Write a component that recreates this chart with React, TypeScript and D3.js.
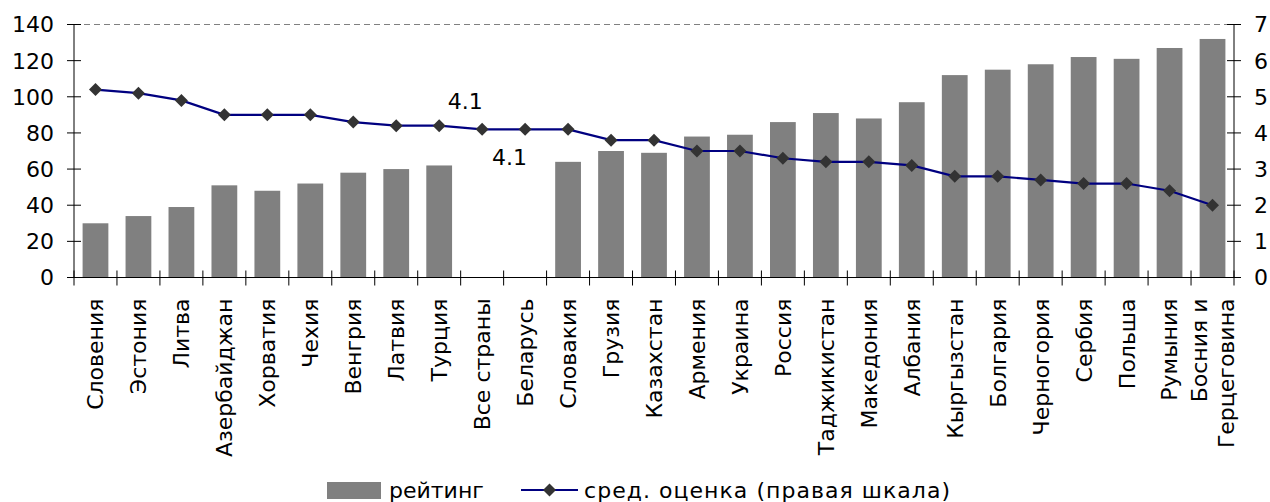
import React from "react";
import * as d3 from "d3";

const categories: string[] = [
  "Словения", "Эстония", "Литва", "Азербайджан", "Хорватия", "Чехия", "Венгрия",
  "Латвия", "Турция", "Все страны", "Беларусь", "Словакия", "Грузия", "Казахстан",
  "Армения", "Украина", "Россия", "Таджикистан", "Македония", "Албания",
  "Кыргызстан", "Болгария", "Черногория", "Сербия", "Польша", "Румыния",
  "Босния и Герцеговина",
];

const rating: (number | null)[] = [
  30, 34, 39, 51, 48, 52, 58, 60, 62, null, null, 64, 70, 69, 78, 79, 86, 91, 88,
  97, 112, 115, 118, 122, 121, 127, 132,
];

const avgScore: number[] = [
  5.2, 5.1, 4.9, 4.5, 4.5, 4.5, 4.3, 4.2, 4.2, 4.1, 4.1, 4.1, 3.8, 3.8, 3.5, 3.5,
  3.3, 3.2, 3.2, 3.1, 2.8, 2.8, 2.7, 2.6, 2.6, 2.4, 2.0,
];

const leftTicks: number[] = [0, 20, 40, 60, 80, 100, 120, 140];
const rightTicks: number[] = [0, 1, 2, 3, 4, 5, 6, 7];

const labelCats: string[] = ["Все страны", "Беларусь"];
const labelTexts: string[] = ["4.1", "4.1"];

const legendNames: string[] = ["рейтинг", "сред. оценка (правая шкала)"];

const FONT = "'DejaVu Sans', Verdana, sans-serif";
const FS = 22;

export default function App() {
  const W = 1270, H = 502;
  const left = 74, right = 1234, top = 24.5, bottom = 277.5;

  const x = d3.scaleBand<string>().domain(categories).range([left, right]).paddingInner(0.4).paddingOuter(0.2);
  const step = x.step();
  const cx = (c: string) => (x(c) as number) + x.bandwidth() / 2;
  const yL = d3.scaleLinear().domain([0, 140]).range([bottom, top]);
  const yR = d3.scaleLinear().domain([0, 7]).range([bottom, top]);

  const line = d3.line<number>()
    .x((_, i) => cx(categories[i]))
    .y((d) => yR(d));

  const diamond = (px: number, py: number, r: number) =>
    `M${px},${py - r}L${px + r},${py}L${px},${py + r}L${px - r},${py}Z`;

  const boundaries = d3.range(categories.length + 1).map((i) => left + i * step);

  return (
    <svg width={W} height={H} style={{ position: "absolute", left: 0, top: 0, display: "block" }}
      fontFamily={FONT}>
      <rect x={0} y={0} width={W} height={H} fill="#fff" />
      {/* top dashed border */}
      <line x1={left} x2={right} y1={yL(140)} y2={yL(140)} stroke="#808080" strokeDasharray="6,4" strokeWidth={1} />
      {/* bars */}
      {categories.map((c, i) =>
        rating[i] == null ? null : (
          <rect key={c} x={x(c)} y={yL(rating[i] as number)} width={x.bandwidth()}
            height={yL(0) - yL(rating[i] as number)} fill="#808080" />
        )
      )}
      {/* axes */}
      <line x1={left} x2={left} y1={top} y2={bottom} stroke="#000" />
      <line x1={right} x2={right} y1={top} y2={bottom} stroke="#000" />
      <line x1={left} x2={right} y1={bottom} y2={bottom} stroke="#000" />
      {leftTicks.map((t) => (
        <g key={"l" + t}>
          <line x1={left - 7} x2={left + 7} y1={yL(t)} y2={yL(t)} stroke="#000" />
          <text x={left - 20} y={yL(t)} dy="0.36em" textAnchor="end" fontSize={FS}>{t}</text>
        </g>
      ))}
      {rightTicks.map((t) => (
        <g key={"r" + t}>
          <line x1={right - 7} x2={right + 7} y1={yR(t)} y2={yR(t)} stroke="#000" />
          <text x={right + 20} y={yR(t)} dy="0.36em" textAnchor="start" fontSize={FS}>{t}</text>
        </g>
      ))}
      {boundaries.map((bx, i) => (
        <line key={"b" + i} x1={bx} x2={bx} y1={bottom - 7} y2={bottom + 8} stroke="#000" />
      ))}
      {/* line series */}
      <path d={line(avgScore) || ""} fill="none" stroke="#000080" strokeWidth={2.2} />
      {avgScore.map((v, i) => (
        <path key={"m" + i} d={diamond(cx(categories[i]), yR(v), 6.5)} fill="#333333" />
      ))}
      {/* data labels */}
      {labelCats.map((c, i) => {
        const v = avgScore[categories.indexOf(c)];
        const up = i === 0;
        return (
          <text key={"dl" + i} x={cx(c) + (up ? -17 : -15.5)} y={yR(v) + (up ? -28.5 : 27.5)}
            dy="0.36em" textAnchor="middle" fontSize={FS}>{labelTexts[i]}</text>
        );
      })}
      {/* category labels */}
      {categories.map((c) => {
        const words = c === "Босния и Герцеговина" ? ["Босния и", "Герцеговина"] : [c];
        const lh = 27;
        return (
          <g key={"c" + c} transform={`translate(${cx(c)},${bottom + 21}) rotate(-90)`}>
            {words.map((w, j) => (
              <text key={j} x={0} y={(j - (words.length - 1) / 2) * lh} dy="0.36em"
                textAnchor="end" fontSize={FS}>{w}</text>
            ))}
          </g>
        );
      })}
      {/* legend */}
      <rect x={327} y={482} width={54} height={17} fill="#808080" />
      <text x={389} y={498} fontSize={FS}>{legendNames[0]}</text>
      <line x1={521} x2={578} y1={490} y2={490} stroke="#000080" strokeWidth={2.2} />
      <path d={diamond(549.5, 490, 6.5)} fill="#333333" />
      <text x={584} y={498} fontSize={FS} textLength={366} lengthAdjust="spacing">{legendNames[1]}</text>
    </svg>
  );
}
